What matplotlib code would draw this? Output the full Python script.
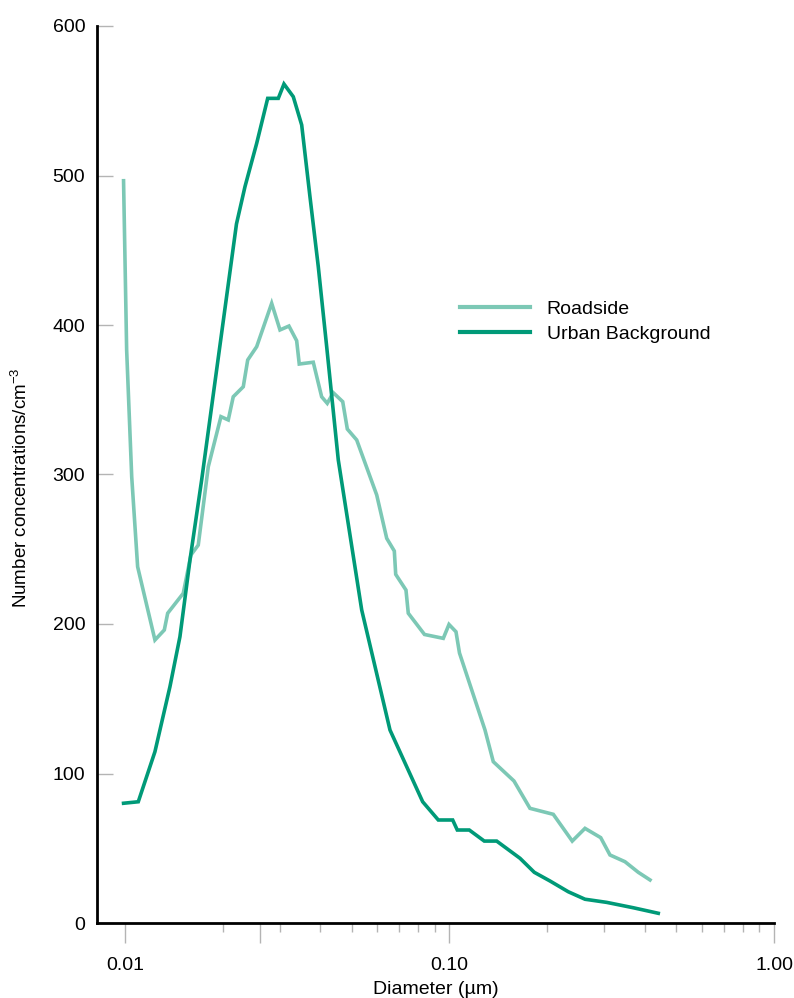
import matplotlib
matplotlib.use("Agg")
import matplotlib.pyplot as plt
from matplotlib.ticker import FixedLocator, FixedFormatter, NullFormatter

plt.rcParams["font.family"] = ["Liberation Sans", "DejaVu Sans"]
plt.rcParams["mathtext.fontset"] = "custom"
plt.rcParams["mathtext.rm"] = "Liberation Sans"
plt.rcParams["mathtext.it"] = "Liberation Sans:italic"

# Particle number size distributions
roadside_d = [0.0099, 0.01012, 0.01049, 0.01094, 0.01237, 0.01322, 0.01354, 0.01512,
              0.01597, 0.01682, 0.01806, 0.01976, 0.02081, 0.02156, 0.02315, 0.02389,
              0.02546, 0.02832, 0.03004, 0.03201, 0.03381, 0.03444, 0.03804, 0.04037,
              0.04201, 0.04384, 0.04688, 0.04844, 0.05177, 0.05967, 0.06406, 0.06761,
              0.06828, 0.07344, 0.07465, 0.08375, 0.09570, 0.09965, 0.10472, 0.10735,
              0.12865, 0.13645, 0.15801, 0.17703, 0.20886, 0.23894, 0.26158, 0.2924,
              0.3123, 0.3474, 0.3818, 0.4149]
roadside_n = [496.5, 383.3, 298.5, 238.3, 189.3, 196.0, 207.2, 220.5,
              246.2, 252.8, 305.2, 338.7, 336.5, 352.0, 358.7, 376.6,
              385.5, 414.5, 396.7, 399.3, 389.5, 373.9, 375.1, 352.0,
              347.6, 354.7, 348.7, 330.4, 323.1, 286.3, 257.3, 248.8,
              233.2, 222.7, 207.2, 193.0, 190.4, 199.7, 194.8, 180.6,
              129.1, 107.9, 95.0, 76.7, 72.7, 54.8, 63.3, 57.1,
              45.5, 41.0, 33.9, 28.8]

urban_d = [0.0099, 0.01099, 0.01237, 0.01376, 0.01477, 0.01586, 0.01723, 0.02206,
           0.02343, 0.02546, 0.02753, 0.02968, 0.03090, 0.03301, 0.03504, 0.03716,
           0.03942, 0.04184, 0.04543, 0.05364, 0.06556, 0.08268, 0.09237, 0.1023,
           0.10569, 0.11508, 0.12801, 0.13978, 0.16492, 0.18253, 0.20404, 0.23233,
           0.26156, 0.30505, 0.36843, 0.43990]
urban_n = [80.1, 81.1, 114.6, 158.1, 191.5, 242.8, 296.3, 467.6,
           492.5, 521.5, 551.6, 551.6, 561.2, 552.7, 533.8, 485.8,
           439.0, 385.5, 309.7, 209.4, 129.1, 81.1, 68.9, 68.9,
           62.2, 62.2, 54.8, 54.8, 43.3, 33.9, 28.1, 20.9,
           15.9, 13.8, 10.2, 6.5]

y_ticks = [0, 100, 200, 300, 400, 500, 600]
x_major = [0.01, 0.0261, 0.1, 1.0]
x_major_labels = ["0.01", "", "0.10", "1.00"]
x_minor = [m * 10.0 ** e for e in (-2, -1) for m in range(2, 10)]

col_road = "#7cc8b5"
col_urban = "#009a78"
tick_grey = "#b4b4b4"

fig = plt.figure(figsize=(7.94, 9.98), dpi=100)
ax = fig.add_axes([97 / 794, 1 - 923 / 998, (774 - 97) / 794, (923 - 26) / 998])

ax.plot(roadside_d, roadside_n, color=col_road, lw=2.6, label="Roadside",
        solid_joinstyle="miter", zorder=3)
ax.plot(urban_d, urban_n, color=col_urban, lw=2.6, label="Urban Background",
        solid_joinstyle="miter", zorder=4)

ax.set_xscale("log")
ax.set_xlim(0.0082, 1.0)
ax.set_ylim(0, 600)

for side in ("top", "right"):
    ax.spines[side].set_visible(False)
for side in ("left", "bottom"):
    ax.spines[side].set_linewidth(2.0)
    ax.spines[side].set_color("black")

ax.xaxis.set_major_locator(FixedLocator(x_major))
ax.xaxis.set_major_formatter(FixedFormatter(x_major_labels))
ax.xaxis.set_minor_locator(FixedLocator(x_minor))
ax.xaxis.set_minor_formatter(NullFormatter())
ax.tick_params(axis="x", which="major", direction="out", length=14.5, width=1.0,
               color=tick_grey, labelsize=14, pad=10)
ax.tick_params(axis="x", which="minor", direction="out", length=6.5, width=1.0,
               color=tick_grey)

ax.set_yticks(y_ticks)
ax.set_yticklabels([str(v) for v in y_ticks])
ax.tick_params(axis="y", which="major", direction="in", length=11.5, width=1.0,
               color=tick_grey, labelsize=14, pad=8.5)
ax.tick_params(axis="y", which="minor", left=False)

ax.set_xlabel("Diameter (µm)", fontsize=14, labelpad=5)
ax.set_ylabel(r"Number concentrations/cm$^{\mathrm{-3}}$", fontsize=13.5)
ax.yaxis.set_label_coords(-0.097, 0.485)

leg = ax.legend(loc="center left", bbox_to_anchor=(460 / 794, 1 - 321.5 / 998),
                bbox_transform=fig.transFigure, frameon=False, fontsize=14,
                handlelength=3.6, handletextpad=0.85, labelspacing=0.35,
                borderpad=0, borderaxespad=0)
for line in leg.get_lines():
    line.set_linewidth(3.0)

fig.savefig("out.png", dpi=100)
